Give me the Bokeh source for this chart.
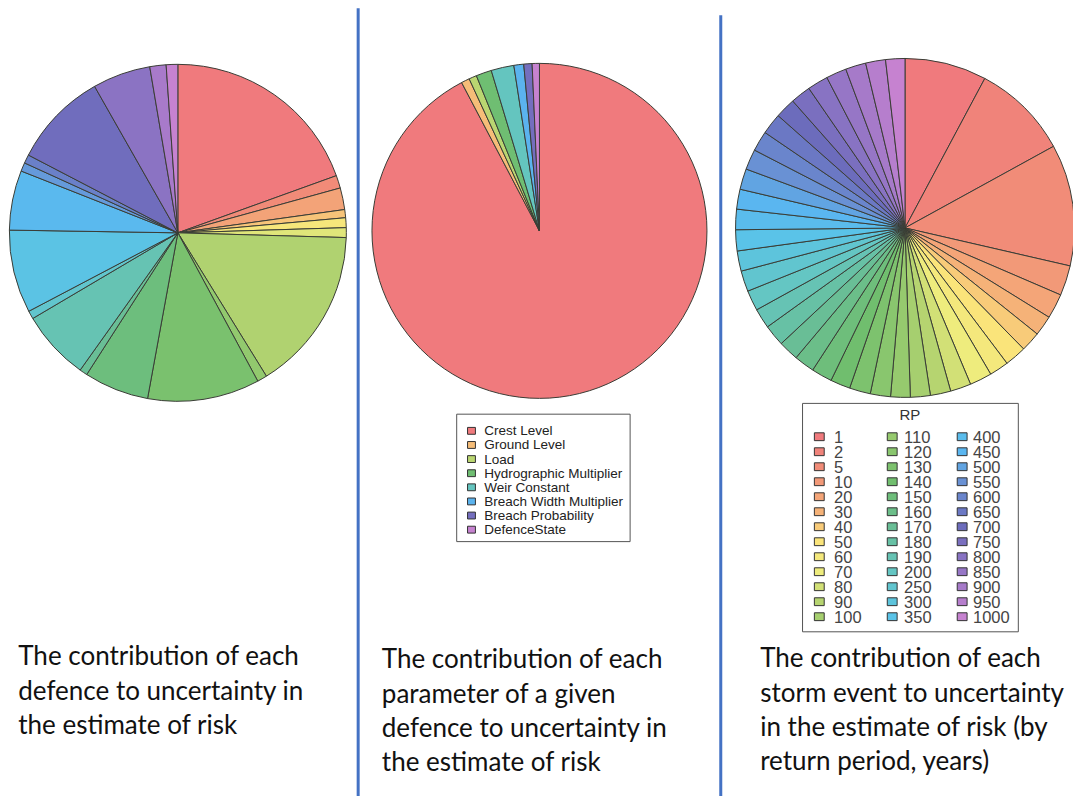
import numpy as np
from bokeh.plotting import figure
from bokeh.models import Range1d, ColumnDataSource
from bokeh.embed import file_html
from bokeh.resources import INLINE
from bokeh.core.properties import value

# ---------------- data ----------------
# Pie 1: contribution of each defence (21 defences, % of total)
defence_share = [19.5, 1.22, 2.08, 0.78, 0.94, 0.94, 15.75, 0.94, 10.75, 6.22, 0.75,
                 6.67, 0.78, 7.97, 5.72, 0.83, 0.83, 9.14, 5.56, 1.56, 1.11]

# Pie 2: contribution of each parameter of a given defence (%)
param_names = ["Crest Level", "Ground Level", "Load", "Hydrographic Multiplier",
               "Weir Constant", "Breach Width Multiplier", "Breach Probability", "DefenceState"]
param_share = [92.4, 0.8, 0.75, 1.5, 2.2, 0.95, 0.8, 0.7]

# Pie 3: contribution of each storm event, by return period (years)
rp_labels = ["1", "2", "5", "10", "20", "30", "40", "50", "60", "70", "80", "90", "100",
             "110", "120", "130", "140", "150", "160", "170", "180", "190", "200", "250",
             "300", "350", "400", "450", "500", "550", "600", "650", "700", "750", "800",
             "850", "900", "950", "1000"]
rp_share = [7.78, 9.17, 11.56, 2.86, 2.36, 1.92, 1.89, 2.06, 1.83, 2.11, 1.97, 1.94, 1.89,
            1.86, 1.92, 2.00, 1.89, 1.97, 1.94, 1.92, 2.03, 1.89, 1.94, 1.97, 1.92,
            2.00, 1.94, 1.89, 1.97, 1.94, 1.92, 2.00, 1.94, 1.92, 1.97, 1.94, 1.94,
            1.89, 1.83]

captions = [
    ["The contribution of each", "defence to uncertainty in", "the estimate of risk"],
    ["The contribution of each", "parameter of a given", "defence to uncertainty in",
     "the estimate of risk"],
    ["The contribution of each", "storm event to uncertainty", "in the estimate of risk (by",
     "return period, years)"],
]

# ---------------- style ----------------
anchor_pos = [0, 2, 5, 7, 9, 11, 13, 16, 19, 22, 25, 27, 29, 32, 35, 38]
anchor_rgb = [(240, 122, 125), (241, 140, 120), (245, 178, 120), (250, 228, 122),
              (238, 236, 125), (182, 212, 112), (150, 202, 110), (112, 190, 110),
              (105, 190, 150), (100, 198, 195), (90, 195, 232), (90, 182, 240),
              (105, 145, 212), (108, 108, 188), (150, 118, 198), (198, 130, 208)]


def palette(n):
    f = np.array(anchor_pos) / 38.0
    out = []
    for i in range(n):
        t = i / (n - 1) if n > 1 else 0
        rgb = [int(round(np.interp(t, f, [c[k] for c in anchor_rgb]))) for k in range(3)]
        out.append("#%02x%02x%02x" % tuple(rgb))
    return out


W, H = 1073, 796
p = figure(width=W, height=H, x_range=Range1d(0, 1089), y_range=Range1d(0, 812),
           output_backend="svg", toolbar_location=None,
           x_axis_type=None, y_axis_type=None, min_border=0)
p.outline_line_color = None
p.background_fill_color = "white"
p.border_fill_color = "white"


def Y(ref_y):
    return 812 - ref_y


def pie(cx, cy, r, vals):
    v = np.array(vals, dtype=float)
    cum = np.cumsum(v) / v.sum() * 2 * np.pi
    prev = np.concatenate([[0], cum[:-1]])
    src = ColumnDataSource(dict(start=np.pi / 2 - cum, end=np.pi / 2 - prev,
                                color=palette(len(v))))
    p.wedge(x=cx, y=Y(cy), radius=r, start_angle="start", end_angle="end",
            direction="anticlock", fill_color="color", line_color="#3a3d36",
            line_width=1, source=src)


pie(180, 237, 171, defence_share)
pie(547, 235, 170, param_share)
pie(918, 232, 172, rp_share)

# separators
p.segment(x0=[363, 731], y0=[Y(8), Y(15)], x1=[363, 731], y1=[Y(812), Y(812)],
          line_color="#4472c4", line_width=3)

# legend 2
p.quad(left=[463], right=[639], top=[Y(422)], bottom=[Y(552)], fill_color="white",
       line_color="#555555", line_width=1)
cols2 = palette(len(param_names))
ly2 = [Y(439 + 14.4 * k) for k in range(len(param_names))]
p.rect(x=[478] * len(param_names), y=ly2, width=8, height=7, fill_color=cols2,
       line_color="#333333", line_width=1)
p.text(x=[491] * len(param_names), y=ly2, text=param_names, text_font=value("Liberation Sans"),
       text_font_size="13.5px", text_baseline="middle", text_color="#222222")

# legend 3
p.quad(left=[814], right=[1033], top=[Y(411)], bottom=[Y(644)], fill_color="white",
       line_color="#555555", line_width=1)
p.text(x=[923], y=[Y(422)], text=["RP"], text_font=value("Liberation Sans"),
       text_font_size="15px", text_baseline="middle", text_align="center", text_color="#333333")
cols3 = palette(len(rp_labels))
mx, tx, my = [], [], []
for i in range(len(rp_labels)):
    c, r = divmod(i, 13)
    mx.append([831, 905, 976][c])
    tx.append([846, 917, 987][c])
    my.append(Y(445 + 15.3 * r))
p.rect(x=mx, y=my, width=10, height=8, fill_color=cols3, line_color="#333333", line_width=1)
p.text(x=tx, y=my, text=rp_labels, text_font=value("Liberation Sans"),
       text_font_size="16.5px", text_baseline="middle", text_color="#444444")

# captions
cap_x = [18, 387, 771]
cap_y0 = [668, 671, 670]
for k in range(3):
    lines = captions[k]
    p.text(x=[cap_x[k]] * len(lines), y=[Y(cap_y0[k] + 35 * j) for j in range(len(lines))],
           text=lines, text_font=value("Lato"), text_font_size="26px",
           text_baseline="middle", text_color="#111111")

open("out.html", "w").write(file_html(p, INLINE))
